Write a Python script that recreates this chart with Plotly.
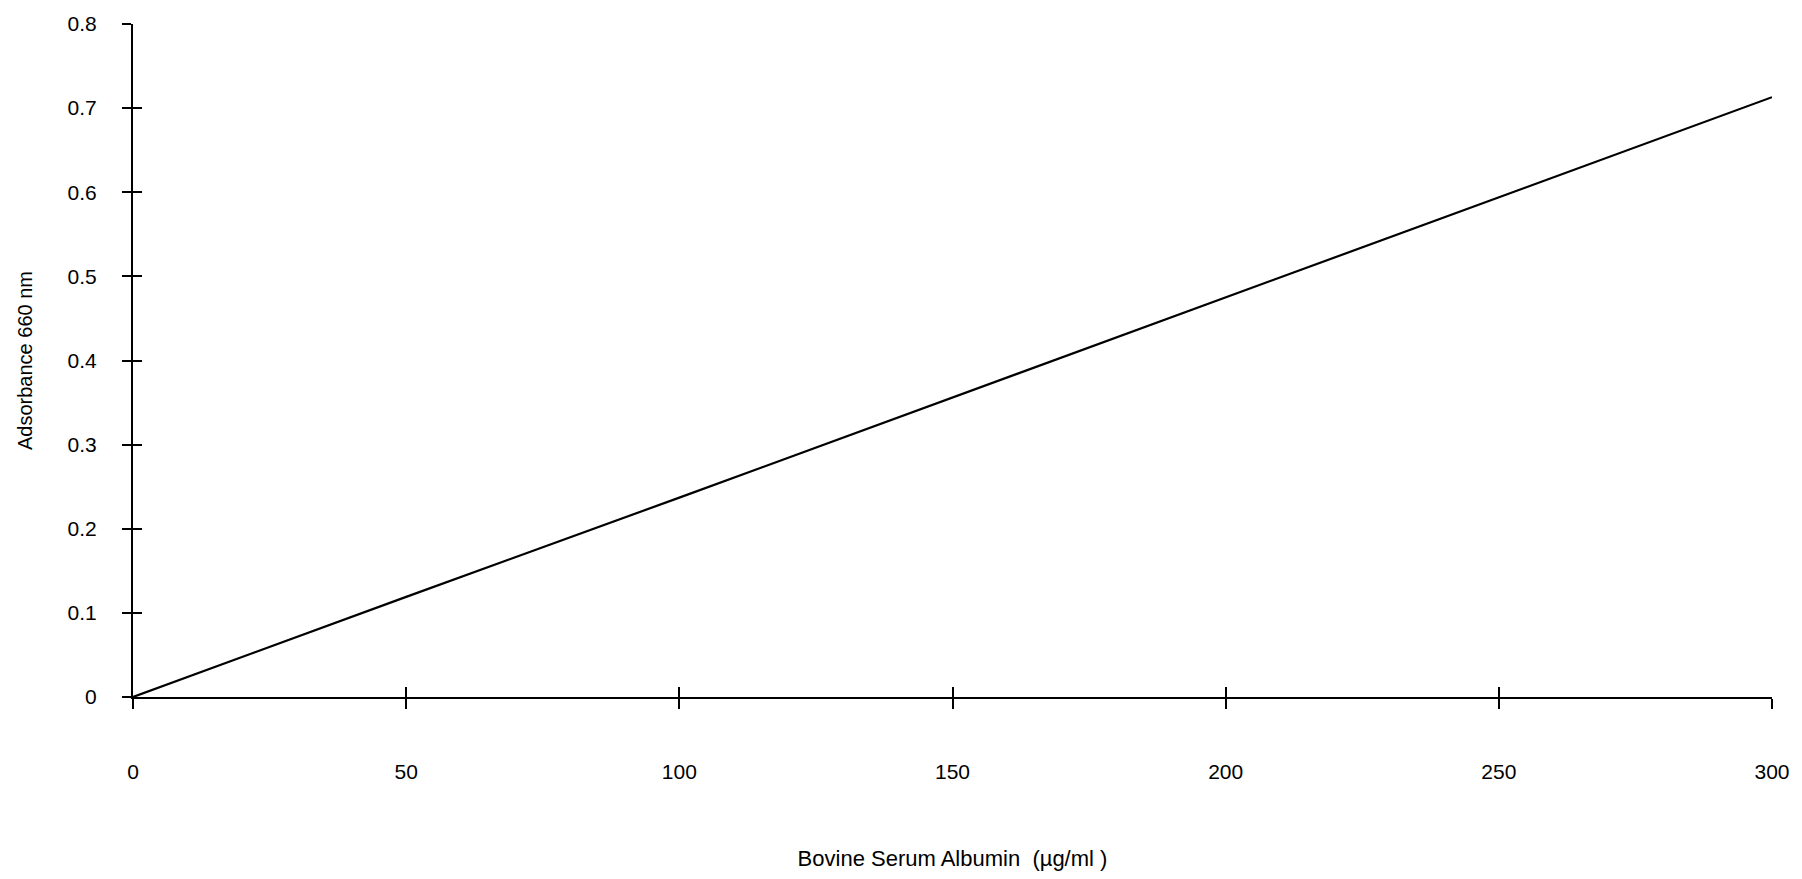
import plotly.graph_objects as go

# Data
bsa_conc = [0, 50, 100, 150, 200, 250, 300]
absorbance = [0.0, 0.119, 0.237, 0.356, 0.475, 0.594, 0.713]

x_ticks = [0, 50, 100, 150, 200, 250, 300]
x_ticklabels = ["0", "50", "100", "150", "200", "250", "300"]
y_ticks = [0, 0.1, 0.2, 0.3, 0.4, 0.5, 0.6, 0.7, 0.8]
y_ticklabels = ["0", "0.1", "0.2", "0.3", "0.4", "0.5", "0.6", "0.7", "0.8"]

FONT = "Liberation Sans, Arial, sans-serif"

fig = go.Figure()
fig.add_trace(go.Scatter(
    x=bsa_conc, y=absorbance, mode="lines",
    line=dict(color="black", width=2.2), showlegend=False, hoverinfo="skip",
))

common_axis = dict(showgrid=False, zeroline=False, showline=True, linecolor="black",
                   linewidth=2, tickcolor="black", tickwidth=2)

fig.update_layout(
    width=1802, height=879,
    margin=dict(l=133, r=25, t=24, b=181),
    paper_bgcolor="white", plot_bgcolor="white",
    font=dict(family=FONT, color="black", size=21),
    xaxis=dict(
        range=[0, 300], tickvals=x_ticks, ticktext=x_ticklabels,
        ticks="outside", ticklen=10, ticklabelstandoff=45,
        title=dict(text="Bovine Serum Albumin  (µg/ml )", standoff=68, font=dict(size=22)),
        **common_axis,
    ),
    yaxis=dict(
        range=[0, 0.8], tickvals=y_ticks, ticktext=y_ticklabels,
        ticks="outside", ticklen=9, ticklabelstandoff=21,
        title=dict(text="Adsorbance 660 nm", standoff=30, font=dict(size=20)),
        **common_axis,
    ),
    xaxis2=dict(
        range=[0, 300], tickvals=x_ticks, overlaying="x", anchor="y",
        side="bottom", ticks="inside", ticklen=10, showticklabels=False,
        **common_axis,
    ),
    yaxis2=dict(
        range=[0, 0.8], tickvals=y_ticks, overlaying="y", anchor="x",
        side="left", ticks="inside", ticklen=9, showticklabels=False,
        **common_axis,
    ),
)

# invisible trace to activate the overlay axes carrying the inner tick halves
fig.add_trace(go.Scatter(x=[None], y=[None], xaxis="x2", yaxis="y2",
                         showlegend=False, hoverinfo="skip"))

fig.write_html("out.html")
